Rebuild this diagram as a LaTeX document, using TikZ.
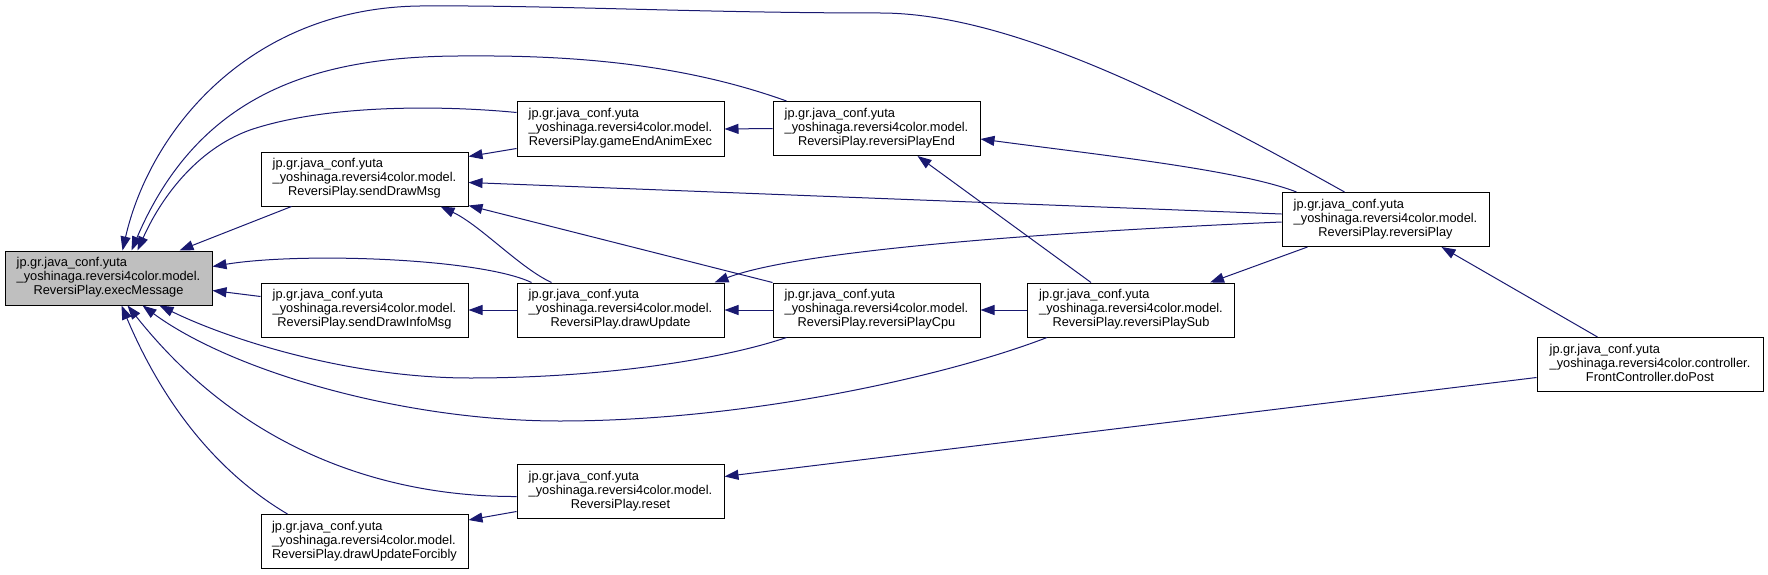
\documentclass[tikz,border=0pt]{standalone}
\usepackage{fontspec}
\setmainfont{Liberation Sans}
\usetikzlibrary{arrows.meta,calc}
\definecolor{edgeblue}{HTML}{191970}
\definecolor{hlgray}{HTML}{BFBFBF}
\newcommand{\lbl}[3]{\begin{tabular}{@{}l@{}}#1\\#2\\\multicolumn{1}{@{}c@{}}{#3}\end{tabular}}
\tikzset{
  fn/.style={draw=black, line width=1pt, fill=white, inner sep=0pt,
    minimum width=207pt, minimum height=54pt, font=\fontsize{12.8}{14}\selectfont},
  hl/.style={fn, fill=hlgray},
  edge/.style={draw=edgeblue, line width=1pt, -{Triangle[length=14pt,width=10pt]}}
}
\begin{document}
\begin{tikzpicture}[x=1pt,y=-1pt]
\useasboundingbox (0,0) rectangle (1768,575);
% nodes
\node[hl] (em) at (108.5,278) {\lbl{jp.gr.java\_conf.yuta}{\_yoshinaga.reversi4color.model.}{ReversiPlay.execMessage}};
\node[fn] (sdm) at (364.5,179) {\lbl{jp.gr.java\_conf.yuta}{\_yoshinaga.reversi4color.model.}{ReversiPlay.sendDrawMsg}};
\node[fn] (gea) at (620.5,129) {\lbl{jp.gr.java\_conf.yuta}{\_yoshinaga.reversi4color.model.}{ReversiPlay.gameEndAnimExec}};
\node[fn] (sdim) at (364.5,310) {\lbl{jp.gr.java\_conf.yuta}{\_yoshinaga.reversi4color.model.}{ReversiPlay.sendDrawInfoMsg}};
\node[fn] (du) at (620.5,310) {\lbl{jp.gr.java\_conf.yuta}{\_yoshinaga.reversi4color.model.}{ReversiPlay.drawUpdate}};
\node[fn] (reset) at (620.5,491.5) {\lbl{jp.gr.java\_conf.yuta}{\_yoshinaga.reversi4color.model.}{ReversiPlay.reset}};
\node[fn] (duf) at (364.5,541.5) {\lbl{jp.gr.java\_conf.yuta}{\_yoshinaga.reversi4color.model.}{ReversiPlay.drawUpdateForcibly}};
\node[fn] (rpe) at (876.5,128.5) {\lbl{jp.gr.java\_conf.yuta}{\_yoshinaga.reversi4color.model.}{ReversiPlay.reversiPlayEnd}};
\node[fn] (rpc) at (876.5,310) {\lbl{jp.gr.java\_conf.yuta}{\_yoshinaga.reversi4color.model.}{ReversiPlay.reversiPlayCpu}};
\node[fn] (rps) at (1131,310) {\lbl{jp.gr.java\_conf.yuta}{\_yoshinaga.reversi4color.model.}{ReversiPlay.reversiPlaySub}};
\node[fn] (rp) at (1385.5,219.5) {\lbl{jp.gr.java\_conf.yuta}{\_yoshinaga.reversi4color.model.}{ReversiPlay.reversiPlay}};
\node[fn, minimum width=226pt] (dp) at (1650,364.5) {\lbl{jp.gr.java\_conf.yuta}{\_yoshinaga.reversi4color.controller.}{FrontController.doPost}};
% edges into execMessage
\draw[edge] ($(sdm.south west)+(31,0)$) -- ($(em.north west)+(175,0)$);
\draw[edge] ($(gea.north west)+(0,11)$) .. controls (450,106) and (330,103) .. (250,130) .. controls (195,150) and (160,200) .. ($(em.north west)+(133,0)$);
\draw[edge] ($(rpe.north west)+(14,0)$) .. controls (700,70) and (600,55) .. (470,56) .. controls (320,55) and (200,90) .. ($(em.north west)+(127,0)$);
\draw[edge] ($(rp.north west)+(63,0)$) .. controls (1180,100) and (1010,13) .. (880,13) .. controls (700,13) and (550,5) .. (420,6) .. controls (250,8) and (150,130) .. ($(em.north west)+(118,0)$);
\draw[edge] ($(du.north west)+(15,0)$) .. controls (480,258) and (300,252) .. ($(em.north east)+(0,16)$);
\draw[edge] ($(sdim.north west)+(0,14)$) -- ($(em.north east)+(0,40)$);
\draw[edge] ($(rpc.south west)+(14,0)$) .. controls (720,360) and (600,378) .. (470,378) .. controls (350,378) and (230,340) .. ($(em.south west)+(155,0)$);
\draw[edge] ($(rps.south west)+(20,0)$) .. controls (950,375) and (750,421) .. (560,421) .. controls (400,421) and (230,370) .. ($(em.south west)+(138,0)$);
\draw[edge] ($(reset.north west)+(0,32.5)$) .. controls (400,497) and (250,460) .. ($(em.south west)+(123,0)$);
\draw[edge] ($(duf.north west)+(27,0)$) .. controls (230,480) and (170,420) .. ($(em.south west)+(117,0)$);
% other edges
\draw[edge] ($(gea.north west)+(0,47)$) -- ($(sdm.north east)+(0,5)$);
\draw[edge] ($(rp.north west)+(0,22)$) -- ($(sdm.north east)+(0,31)$);
\draw[edge] ($(du.north west)+(35,0)$) .. controls (520,268) and (480,225) .. ($(sdm.south east)+(-28,0)$);
\draw[edge] (rpc.north west) -- ($(sdm.south east)+(0,-1)$);
\draw[edge] (du.west) -- (sdim.east);
\draw[edge] (rpc.west) -- (du.east);
\draw[edge] ($(rp.north west)+(0,30)$) .. controls (1050,232) and (800,250) .. ($(du.north east)+(-10,0)$);
\draw[edge] (rps.west) -- (rpc.east);
\draw[edge] ($(rps.north west)+(64,0)$) -- ($(rpe.south west)+(145,0)$);
\draw[edge] ($(rp.south west)+(26,0)$) -- ($(rps.north east)+(-25,0)$);
\draw[edge] (rpe.west) -- (gea.east);
\draw[edge] ($(rp.north west)+(15,0)$) .. controls (1240,170) and (1100,155) .. ($(rpe.north east)+(0,38)$);
\draw[edge] ($(dp.north west)+(61,0)$) -- ($(rp.south west)+(160,0)$);
\draw[edge] ($(dp.north west)+(0,40.5)$) -- ($(reset.north east)+(0,12.5)$);
\draw[edge] ($(reset.north west)+(0,47.5)$) -- ($(duf.north east)+(0,6)$);
\end{tikzpicture}
\end{document}
